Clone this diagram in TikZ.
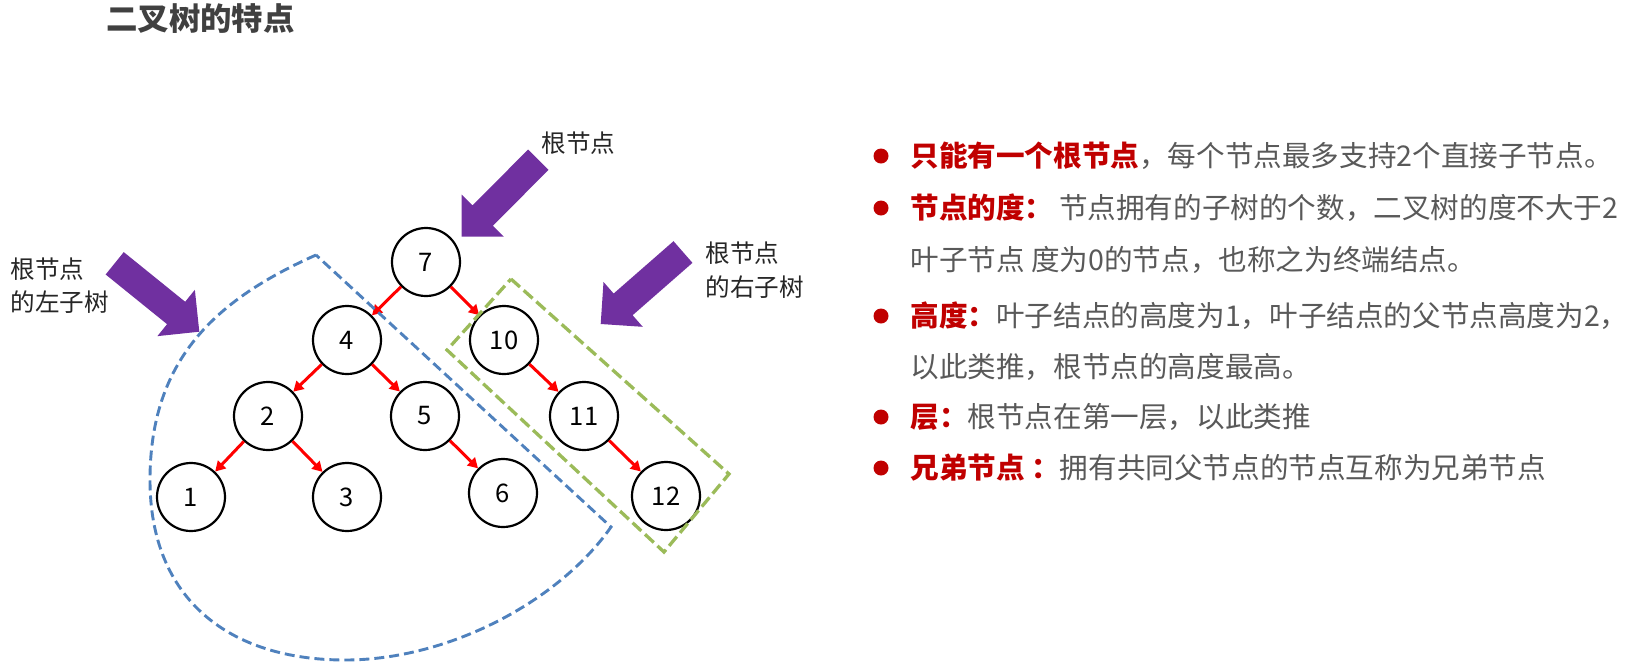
\documentclass[tikz,border=0pt]{standalone}
\usepackage{fontspec}
\setmainfont{Noto Sans CJK SC}
\usepackage{tikz}
\usetikzlibrary{arrows.meta, calc}
\definecolor{npRed}{RGB}{192,0,0}
\definecolor{edgeRed}{RGB}{255,0,0}
\definecolor{npPurple}{RGB}{112,48,160}
\definecolor{npBlue}{RGB}{79,129,189}
\definecolor{npGreen}{RGB}{155,187,89}
\definecolor{txtGray}{RGB}{89,89,89}
\definecolor{ttlGray}{RGB}{64,64,64}
\newcommand{\kw}[1]{\textcolor{npRed}{\bfseries #1}}

\begin{document}
\begin{tikzpicture}[
    x=0.5pt, y=-0.5pt,
    nd/.style={circle, draw, line width=1.1pt, minimum size=34pt, inner sep=0pt,
               font=\fontsize{12.8pt}{15pt}\selectfont},
    edge/.style={draw=edgeRed, line width=1.5pt, -{Triangle[length=5pt, width=5.5pt]}},
    lbl/.style={anchor=west, inner sep=0pt, align=left, text=black!85,
                font=\fontsize{12.3pt}{16.5pt}\selectfont},
    item/.style={anchor=west, inner sep=0pt, text=txtGray,
                 font=\fontsize{14.3pt}{17pt}\selectfont}
  ]
  \useasboundingbox (0,0) rectangle (1635,671);

  % title
  \node[anchor=west, inner sep=0pt, text=ttlGray, font=\fontsize{15.7pt}{18pt}\selectfont\bfseries]
    (title) at (106,19) {二叉树的特点};

  % tree
  \node[nd] (n7)  at (426,262) {7};
  \node[nd] (n4)  at (347,340) {4};
  \node[nd] (n10) at (504,340) {10};
  \node[nd] (n2)  at (268,416) {2};
  \node[nd] (n5)  at (425,416) {5};
  \node[nd] (n11) at (584,416) {11};
  \node[nd] (n1)  at (191,497) {1};
  \node[nd] (n3)  at (347,497) {3};
  \node[nd] (n6)  at (503,493) {6};
  \node[nd] (n12) at (666,496) {12};
  \foreach \a/\b in {n7/n4, n7/n10, n4/n2, n4/n5, n2/n1, n2/n3, n5/n6, n10/n11, n11/n12}
    \draw[edge] (\a) -- (\b);

  % left subtree outline
  \draw[npBlue, line width=1.45pt, dash pattern=on 5pt off 2.5pt]
    (316,255) .. controls (215,300) and (150,360) .. (150,480)
              .. controls (150,600) and (230,660) .. (345,660)
              .. controls (450,660) and (560,600) .. (611,527) -- cycle;

  % right subtree outline
  \draw[npGreen, line width=1.65pt, dash pattern=on 6pt off 2.5pt]
    (511,279) -- (729,474) -- (664,552) -- (447,350) -- cycle;

  % pointers
  \coordinate (pRootS)  at (538.3,159.7);
  \coordinate (pRootT)  at (461.7,236.7);
  \coordinate (pLeftS)  at (114.7,263.3);
  \coordinate (pLeftT)  at (199.3,331.7);
  \coordinate (pRightS) at (683,252);
  \coordinate (pRightT) at (600.7,324);
  \foreach \s/\t in {pRootS/pRootT, pLeftS/pLeftT, pRightS/pRightT} {
    \coordinate (h) at ($(\t)!14.9pt!(\s)$);
    \fill[npPurple] ($(\s)!7.2pt!90:(\t)$) -- ($(h)!7.2pt!90:(\t)$) -- ($(h)!14.9pt!90:(\t)$)
      -- (\t) -- ($(h)!14.9pt!-90:(\t)$) -- ($(h)!7.2pt!-90:(\t)$) -- ($(\s)!7.2pt!-90:(\t)$) -- cycle;
  }

  % labels
  \node[lbl] (lRoot)  at (541,143) {根节点};
  \node[lbl] (lLeft)  at (10,285.5) {根节点\\的左子树};
  \node[lbl, font=\fontsize{12.3pt}{17pt}\selectfont] (lRight) at (705,270.5) {根节点\\的右子树};

  % list
  \foreach \y in {156,208,316,417,468}
    \fill[npRed] (881,\y) circle (7.5);
  \node[item] (t1) at (910,156) {\kw{只能有一个根节点}，每个节点最多支持2个直接子节点。};
  \node[item] (t2) at (910,208) {\kw{节点的度：}\hspace{0.2em}节点拥有的子树的个数，二叉树的度不大于2};
  \node[item] (t3) at (910,260) {叶子节点 度为0的节点，也称之为终端结点。};
  \node[item] (t4) at (910,316) {\kw{高度：}叶子结点的高度为1，叶子结点的父节点高度为2，};
  \node[item] (t5) at (910,367) {以此类推，根节点的高度最高。};
  \node[item] (t6) at (910,417) {\kw{层：}根节点在第一层，以此类推};
  \node[item] (t7) at (910,468) {\kw{兄弟节点 ：}拥有共同父节点的节点互称为兄弟节点};
\end{tikzpicture}
\end{document}
